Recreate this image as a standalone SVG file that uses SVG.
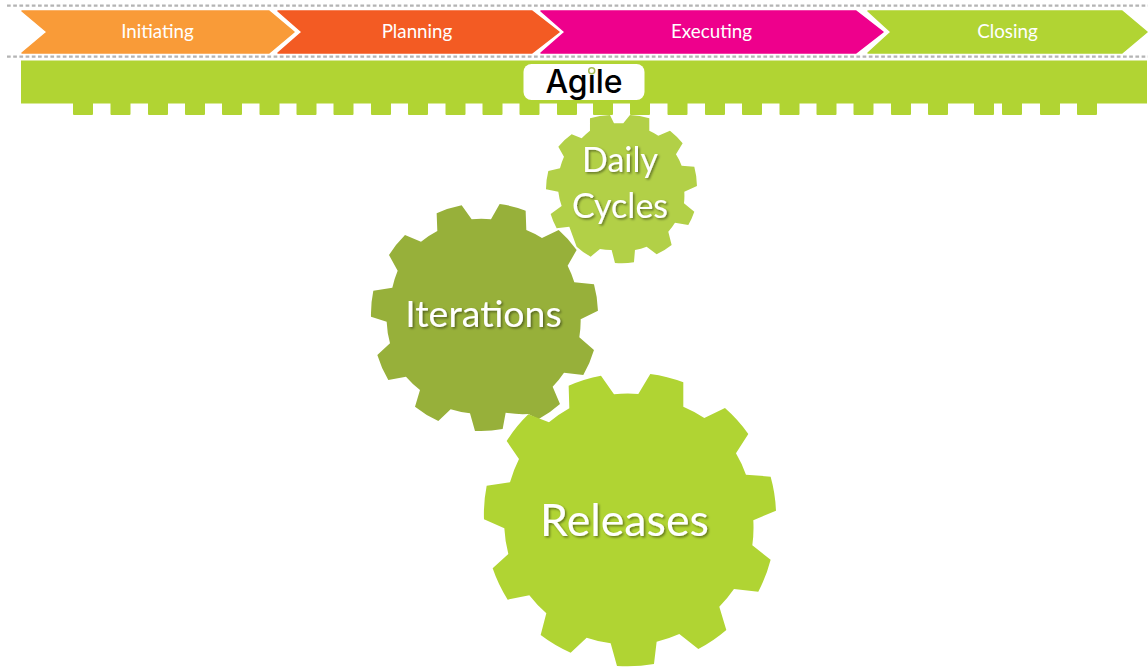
<svg xmlns="http://www.w3.org/2000/svg" width="1148" height="668" viewBox="0 0 1148 668">
<style>
.dash{fill:none;stroke:#b4b4b4;stroke-width:2.300;stroke-dasharray:3.700 2.500}
.chev{stroke-width:1.5;stroke-linejoin:round}
.cl{font-family:"Lato","Liberation Sans",sans-serif;font-size:18.800px;fill:#fff;text-anchor:middle}
.gl{font-family:"Lato","Liberation Sans",sans-serif;fill:#fff;text-anchor:middle;filter:url(#sh)}
.tooth{fill:#b1d433}
</style>
<defs>
<filter id="sh" x="-10%" y="-20%" width="120%" height="140%"><feDropShadow dx="1.5" dy="1.5" stdDeviation="1" flood-color="#000" flood-opacity="0.45"/></filter>
</defs>
<rect width="1148" height="668" fill="#fff"/>
<path class="dash" d="M7 5.700H1148M7 56.700H1148"/>
<g id="initiating"><path class="chev" fill="#f99b38" stroke="#f99b38" d="M22 11H269L294 32L269 53H22L47 32Z"/><text class="cl" x="157.500" y="38">Initiating</text></g>
<g id="planning"><path class="chev" fill="#f35b23" stroke="#f35b23" d="M278 11H532L559 32L532 53H278L302 32Z"/><text class="cl" x="417" y="38">Planning</text></g>
<g id="executing"><path class="chev" fill="#ee008c" stroke="#ee008c" d="M541 11H856L883 32L856 53H541L565 32Z"/><text class="cl" x="711.500" y="38">Executing</text></g>
<g id="closing"><path class="chev" fill="#b1d433" stroke="#b1d433" d="M868 11H1122L1147 32L1122 53H868L891 32Z"/><text class="cl" x="1007.500" y="38">Closing</text></g>
<g id="daily-cycles">
<path fill="#b2d047" transform="translate(360 100) scale(.3333)" d="M690 55A227 227 0 0 1 750 45L762 70A195 195 0 0 1 790 70L810 45A227 227 0 0 1 868 55L868 92A195 195 0 0 1 895 107L930 92A227 227 0 0 1 968 130L948 163A195 195 0 0 1 965 197L1003 200A227 227 0 0 1 1011 258L973 275A195 195 0 0 1 972 310L1003 335A227 227 0 0 1 985 375L945 368A195 195 0 0 1 925 395L935 435A227 227 0 0 1 890 463L860 440A195 195 0 0 1 825 450L822 487A227 227 0 0 1 765 489L755 450A195 195 0 0 1 720 447L692 470A227 227 0 0 1 650 440L628 380L590 385A227 227 0 0 1 572 342L605 318A195 195 0 0 1 595 275L558 268A227 227 0 0 1 565 213L600 205A195 195 0 0 1 612 170L595 140A227 227 0 0 1 635 103L665 115A195 195 0 0 1 690 92Z"/>
<text class="gl" font-size="34" x="620" y="172">Daily</text>
<text class="gl" font-size="34" x="620" y="218">Cycles</text>
</g>
<g id="iterations">
<path fill="#97b03a" transform="translate(360 100) scale(.3333)" d="M305 316L335 358A295 295 0 0 1 393 358L419 312A340 340 0 0 1 497 332L499 390A295 295 0 0 1 546 414L596 390A340 340 0 0 1 650 450L623 497A295 295 0 0 1 643 547L702 553A340 340 0 0 1 714 632L662 658A295 295 0 0 1 658 712L702 750A340 340 0 0 1 670 825L612 818A295 295 0 0 1 578 860L600 912A340 340 0 0 1 535 958L505 942A295 295 0 0 1 437 938L428 987A340 340 0 0 1 345 993L330 940A295 295 0 0 1 272 928L235 963A340 340 0 0 1 165 920L180 870A295 295 0 0 1 138 830L85 840A340 340 0 0 1 52 765L90 730A295 295 0 0 1 80 665L33 650A340 340 0 0 1 40 572L97 563A295 295 0 0 1 113 512L87 465A340 340 0 0 1 135 405L183 425A295 295 0 0 1 232 393L230 340A340 340 0 0 1 305 316Z"/>
<text class="gl" font-size="37.500" x="483.500" y="327">Iterations</text>
</g>
<g id="releases">
<path fill="#b0d433" transform="translate(470 365) scale(.3333)" d="M393 32L432 88A380 380 0 0 1 505 87L541 27A438 438 0 0 1 640 52L640 125A380 380 0 0 1 703 159L765 129A438 438 0 0 1 835 207L798 265A380 380 0 0 1 828 329L902 335A438 438 0 0 1 918 437L850 466A380 380 0 0 1 847 541L902 584A438 438 0 0 1 865 680L792 672A380 380 0 0 1 748 725L769 795A438 438 0 0 1 685 852L628 807A380 380 0 0 1 560 830L552 897A438 438 0 0 1 441 903L422 835A380 380 0 0 1 350 818L302 863A438 438 0 0 1 212 810L229 745A380 380 0 0 1 178 691L113 704A438 438 0 0 1 68 610L115 567A380 380 0 0 1 103 490L42 463A438 438 0 0 1 50 362L120 352A380 380 0 0 1 147 282L110 228A438 438 0 0 1 175 148L237 172A380 380 0 0 1 298 130L296 62A438 438 0 0 1 393 32Z"/>
<text class="gl" font-size="44.700" x="624.500" y="536">Releases</text>
</g>
<g id="agile-bar">
<rect x="21" y="60.500" width="1126" height="43" fill="#b1d433"/>
<path class="tooth" d="M73 103h20v11q0 1-1 1h-18q-1 0-1-1zM110.500 103h20v11q0 1-1 1h-18q-1 0-1-1zM148 103h20v11q0 1-1 1h-18q-1 0-1-1zM185 103h20v11q0 1-1 1h-18q-1 0-1-1zM222 103h20v11q0 1-1 1h-18q-1 0-1-1zM259.500 103h20v11q0 1-1 1h-18q-1 0-1-1zM296.500 103h20v11q0 1-1 1h-18q-1 0-1-1zM333.500 103h20v11q0 1-1 1h-18q-1 0-1-1zM371 103h20v11q0 1-1 1h-18q-1 0-1-1zM408 103h20v11q0 1-1 1h-18q-1 0-1-1zM445.500 103h20v11q0 1-1 1h-18q-1 0-1-1zM482.500 103h20v11q0 1-1 1h-18q-1 0-1-1zM519.500 103h20v11q0 1-1 1h-18q-1 0-1-1zM557 103h20v11q0 1-1 1h-18q-1 0-1-1zM593 103h20v11q0 1-1 1h-18q-1 0-1-1zM630 103h20v11q0 1-1 1h-18q-1 0-1-1zM667.500 103h20v11q0 1-1 1h-18q-1 0-1-1zM705 103h20v11q0 1-1 1h-18q-1 0-1-1zM742 103h20v11q0 1-1 1h-18q-1 0-1-1zM779.500 103h20v11q0 1-1 1h-18q-1 0-1-1zM816.500 103h20v11q0 1-1 1h-18q-1 0-1-1zM853.500 103h20v11q0 1-1 1h-18q-1 0-1-1zM891 103h20v11q0 1-1 1h-18q-1 0-1-1zM928 103h20v11q0 1-1 1h-18q-1 0-1-1zM974 103h20v11q0 1-1 1h-18q-1 0-1-1zM1002 103h20v11q0 1-1 1h-18q-1 0-1-1zM1040 103h20v11q0 1-1 1h-18q-1 0-1-1zM1077 103h20v11q0 1-1 1h-18q-1 0-1-1z"/>
<rect x="523.500" y="64" width="121" height="36" rx="8" fill="#fff"/>
<text x="584" y="93" font-family="Inter,'Liberation Sans',sans-serif" font-size="32" font-weight="500" fill="#000" text-anchor="middle">Agile</text>
<circle cx="591.700" cy="70.700" r="3" fill="#fff" stroke="#a9bc55" stroke-width="1.500"/>
</g>
</svg>
